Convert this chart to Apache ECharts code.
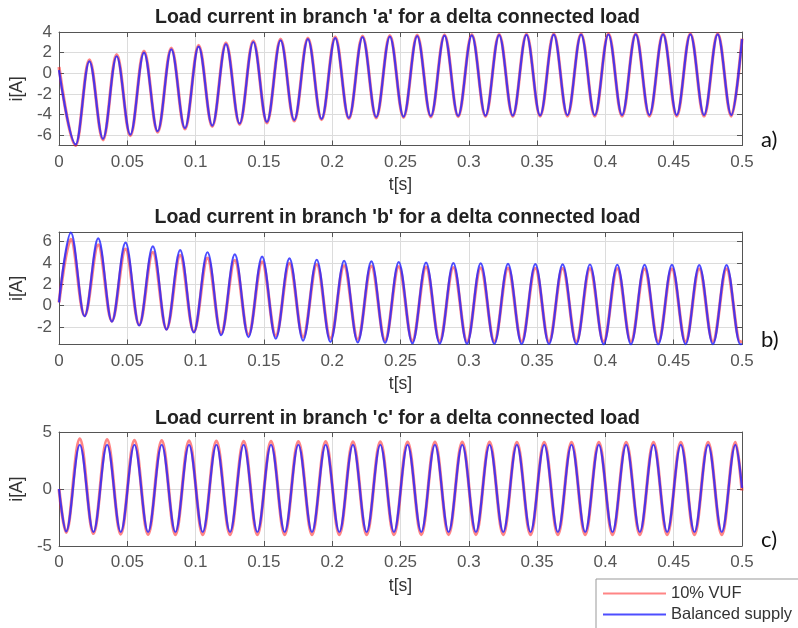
<!DOCTYPE html>
<html><head><meta charset="utf-8">
<script src="https://cdn.jsdelivr.net/npm/echarts@6/dist/echarts.min.js"></script>
<style>html,body{margin:0;padding:0;background:#fff}#c{width:798px;height:628px}</style>
</head><body><div id="c"></div><script>
// ---- data (extrema of each half-cycle, plus the two ends) ----
const seriesNames = ['10% VUF', 'Balanced supply'];
const titles = [
  "Load current in branch 'a' for a delta connected load",
  "Load current in branch 'b' for a delta connected load",
  "Load current in branch 'c' for a delta connected load"
];
const panelLabels = ['a)', 'b)', 'c)'];
const xTickStep = 0.05;

// branch a : time [s]
const tA = [0, 0.0122, 0.0222, 0.0322, 0.0422, 0.0522, 0.0622, 0.0722, 0.0822, 0.0922, 0.1022,
  0.1122, 0.1222, 0.1322, 0.1422, 0.1522, 0.1622, 0.1722, 0.1822, 0.1922, 0.2022,
  0.2122, 0.2222, 0.2322, 0.2422, 0.2522, 0.2622, 0.2722, 0.2822, 0.2922, 0.3022,
  0.3122, 0.3222, 0.3322, 0.3422, 0.3522, 0.3622, 0.3722, 0.3822, 0.3922, 0.4022,
  0.4122, 0.4222, 0.4322, 0.4422, 0.4522, 0.4622, 0.4722, 0.4822, 0.4922, 0.5];
const aVUF = [0.6, -7.0, 1.3, -6.45, 1.8, -6.05, 2.15, -5.7, 2.45, -5.4, 2.7,
  -5.15, 2.95, -4.95, 3.15, -4.8, 3.3, -4.62, 3.42, -4.5, 3.52,
  -4.4, 3.6, -4.32, 3.65, -4.27, 3.7, -4.23, 3.73, -4.2, 3.76,
  -4.18, 3.78, -4.17, 3.8, -4.16, 3.82, -4.15, 3.83, -4.15, 3.84,
  -4.15, 3.85, -4.15, 3.85, -4.15, 3.85, -4.15, 3.85, -4.15, 3.35];
const aBal = [0.3, -6.9, 1.15, -6.35, 1.65, -5.95, 2.0, -5.62, 2.32, -5.32, 2.58,
  -5.07, 2.83, -4.87, 3.03, -4.72, 3.18, -4.54, 3.3, -4.42, 3.41,
  -4.33, 3.5, -4.25, 3.55, -4.2, 3.6, -4.16, 3.64, -4.13, 3.67,
  -4.11, 3.7, -4.1, 3.72, -4.08, 3.74, -4.07, 3.75, -4.06, 3.76,
  -4.05, 3.77, -4.05, 3.77, -4.05, 3.77, -4.05, 3.77, -4.05, 3.3];

// branch b
const tB = [0, 0.0087, 0.0187, 0.0287, 0.0387, 0.0487, 0.0587, 0.0687, 0.0787, 0.0887, 0.0987,
  0.1087, 0.1187, 0.1287, 0.1387, 0.1487, 0.1587, 0.1687, 0.1787, 0.1887, 0.1987,
  0.2087, 0.2187, 0.2287, 0.2387, 0.2487, 0.2587, 0.2687, 0.2787, 0.2887, 0.2987,
  0.3087, 0.3187, 0.3287, 0.3387, 0.3487, 0.3587, 0.3687, 0.3787, 0.3887, 0.3987,
  0.4087, 0.4187, 0.4287, 0.4387, 0.4487, 0.4587, 0.4687, 0.4787, 0.4887, 0.4987, 0.5];
const bVUF = [0.3, 6.2, -0.95, 5.7, -1.45, 5.3, -1.8, 5.0, -2.2, 4.7, -2.45,
  4.45, -2.6, 4.25, -2.72, 4.1, -2.82, 3.95, -2.95, 3.85, -3.08,
  3.75, -3.18, 3.7, -3.25, 3.65, -3.3, 3.6, -3.33, 3.57, -3.35,
  3.54, -3.36, 3.52, -3.37, 3.5, -3.38, 3.48, -3.38, 3.47, -3.38,
  3.46, -3.38, 3.45, -3.38, 3.45, -3.38, 3.45, -3.38, 3.45, -3.38, -3.33];
const bBal = [0.3, 6.85, -1.0, 6.3, -1.5, 5.9, -1.87, 5.55, -2.25, 5.2, -2.52,
  5.0, -2.78, 4.8, -2.95, 4.6, -3.1, 4.42, -3.28, 4.3, -3.4,
  4.2, -3.45, 4.14, -3.5, 4.08, -3.54, 4.03, -3.57, 3.99, -3.59,
  3.95, -3.6, 3.92, -3.61, 3.89, -3.62, 3.87, -3.62, 3.85, -3.63,
  3.83, -3.63, 3.82, -3.63, 3.81, -3.63, 3.8, -3.63, 3.8, -3.63, -3.6];

// branch c
const tC = [0, 0.0052, 0.0152, 0.0252, 0.0352, 0.0452, 0.0552, 0.0652, 0.0752, 0.0852, 0.0952,
  0.1052, 0.1152, 0.1252, 0.1352, 0.1452, 0.1552, 0.1652, 0.1752, 0.1852, 0.1952,
  0.2052, 0.2152, 0.2252, 0.2352, 0.2452, 0.2552, 0.2652, 0.2752, 0.2852, 0.2952,
  0.3052, 0.3152, 0.3252, 0.3352, 0.3452, 0.3552, 0.3652, 0.3752, 0.3852, 0.3952,
  0.4052, 0.4152, 0.4252, 0.4352, 0.4452, 0.4552, 0.4652, 0.4752, 0.4852, 0.4952, 0.5];
const cVUF = [0, -3.8, 4.4, -3.9, 4.33, -3.95, 4.27, -3.98, 4.24, -4.0, 4.22,
  -4.0, 4.2, -4.0, 4.18, -4.0, 4.17, -4.0, 4.16, -4.0, 4.15,
  -4.0, 4.14, -4.0, 4.13, -4.0, 4.12, -4.0, 4.12, -4.0, 4.11,
  -4.0, 4.11, -4.0, 4.1, -4.0, 4.1, -4.0, 4.1, -4.0, 4.1,
  -4.0, 4.1, -4.0, 4.1, -4.0, 4.1, -4.0, 4.1, -4.0, 4.1, -0.15];
const cBal = [0, -3.72, 3.88, -3.76, 3.88, -3.77, 3.88, -3.77, 3.88, -3.77, 3.88,
  -3.77, 3.88, -3.77, 3.88, -3.77, 3.88, -3.77, 3.88, -3.77, 3.88,
  -3.77, 3.88, -3.77, 3.88, -3.77, 3.88, -3.77, 3.88, -3.77, 3.88,
  -3.77, 3.88, -3.77, 3.88, -3.77, 3.88, -3.77, 3.88, -3.77, 3.88,
  -3.77, 3.88, -3.77, 3.88, -3.77, 3.88, -3.77, 3.88, -3.77, 3.88, 0.1];

// y-axis ranges per panel
const yRanges = [[-7, 4], [-3.65, 6.9], [-5, 5]];
const yIntervals = [null, null, 5];

// ---- chart ----
const FONT = 'Arial';
const AX = '#555';
const grids = [
  {left: 53, top: 32, width: 689, height: 113.5},
  {left: 53, top: 232, width: 689, height: 112.5},
  {left: 53, top: 432, width: 689, height: 114}
];
const xAxis = [], yAxis = [];
grids.forEach((g, i) => {
  xAxis.push({
    type: 'value', gridIndex: i, position: 'bottom', min: 0, max: 0.5, interval: xTickStep,
    axisLine: {show: true, onZero: false, lineStyle: {color: AX, width: 1}},
    axisTick: {show: true, inside: true, length: 5, lineStyle: {color: AX}},
    axisLabel: {show: true, margin: 8, color: '#555', fontSize: 17, fontFamily: FONT,
      formatter: v => String(+v.toFixed(2))},
    splitLine: {show: true, lineStyle: {color: '#dcdcdc', width: 1}},
    name: 't[s]', nameLocation: 'middle', nameGap: 31,
    nameTextStyle: {color: '#333', fontSize: 17.5, fontFamily: FONT}
  });
  xAxis.push({
    type: 'value', gridIndex: i, position: 'top', min: 0, max: 0.5, interval: xTickStep,
    axisLine: {show: true, onZero: false, lineStyle: {color: AX, width: 1}},
    axisTick: {show: true, inside: true, length: 5, lineStyle: {color: AX}},
    axisLabel: {show: false}, splitLine: {show: false}
  });
  const yr = yRanges[i];
  const base = {
    type: 'value', gridIndex: i, min: yr[0], max: yr[1],
    axisLine: {show: true, onZero: false, lineStyle: {color: AX, width: 1}},
    axisTick: {show: true, inside: true, length: 5, lineStyle: {color: AX}}
  };
  if (yIntervals[i]) base.interval = yIntervals[i];
  yAxis.push(Object.assign({}, base, {
    position: 'left',
    axisLabel: {show: true, margin: 7, color: '#555', fontSize: 17, fontFamily: FONT,
      formatter: v => (Math.abs(v - Math.round(v)) < 1e-9 && (yIntervals[i] || Math.round(v) % 2 === 0)) ? String(Math.round(v)) : ''},
    splitLine: {show: true, lineStyle: {color: '#dcdcdc', width: 1}},
    name: 'i[A]', nameLocation: 'middle', nameGap: 28, nameRotate: 90,
    nameTextStyle: {color: '#333', fontSize: 17.5, fontFamily: FONT}
  }));
  yAxis.push(Object.assign({}, base, {
    position: 'right', axisLabel: {show: false}, splitLine: {show: false}
  }));
});

const panels = [[tA, aVUF, aBal], [tB, bVUF, bBal], [tC, cVUF, cBal]];
const series = [];
panels.forEach((p, i) => {
  const [t, vuf, bal] = p;
  series.push({
    name: seriesNames[0], type: 'line', xAxisIndex: 2 * i, yAxisIndex: 2 * i,
    data: t.map((x, k) => [x, vuf[k]]), symbol: 'none', showSymbol: false,
    smooth: 0.36, smoothMonotone: 'x', clip: true,
    lineStyle: {color: '#ff2020', width: 3.2, opacity: 0.55},
    itemStyle: {color: '#ff2020'}, z: 2
  });
  series.push({
    name: seriesNames[1], type: 'line', xAxisIndex: 2 * i, yAxisIndex: 2 * i,
    data: t.map((x, k) => [x, bal[k]]), symbol: 'none', showSymbol: false,
    smooth: 0.36, smoothMonotone: 'x', clip: true,
    lineStyle: {color: '#2020ff', width: 2.2, opacity: 0.8},
    itemStyle: {color: '#2020ff'}, z: 3
  });
});

const titleTops = [7.5, 207.5, 408.5];
const labelYs = [140, 340, 540];
const option = {
  animation: false,
  backgroundColor: '#fff',
  title: titles.map((s, i) => ({
    text: s, left: 397.5, top: titleTops[i], textAlign: 'center', padding: 0,
    textStyle: {fontFamily: FONT, fontWeight: 'bold', fontSize: 19.5, color: '#222'}
  })),
  grid: grids.map(g => Object.assign({show: false, containLabel: false}, g)),
  xAxis, yAxis, series,
  legend: {
    data: seriesNames, orient: 'vertical', left: 596, top: 579, height: 60,
    itemWidth: 63, itemHeight: 14, itemGap: 4, selectedMode: false,
    itemStyle: {opacity: 0},
    padding: [6, 20, 14, 6], borderColor: '#999', borderWidth: 1, backgroundColor: '#fff',
    textStyle: {fontFamily: FONT, fontSize: 16.5, color: '#333'}
  },
  graphic: panelLabels.map((s, i) => ({
    type: 'text', x: 761, y: labelYs[i], silent: true,
    style: {text: s, font: '22px Lato, "Open Sans", sans-serif', fill: '#111', verticalAlign: 'middle'}
  }))
};
const chart = echarts.init(document.getElementById('c'));
chart.setOption(option);
</script></body></html>
